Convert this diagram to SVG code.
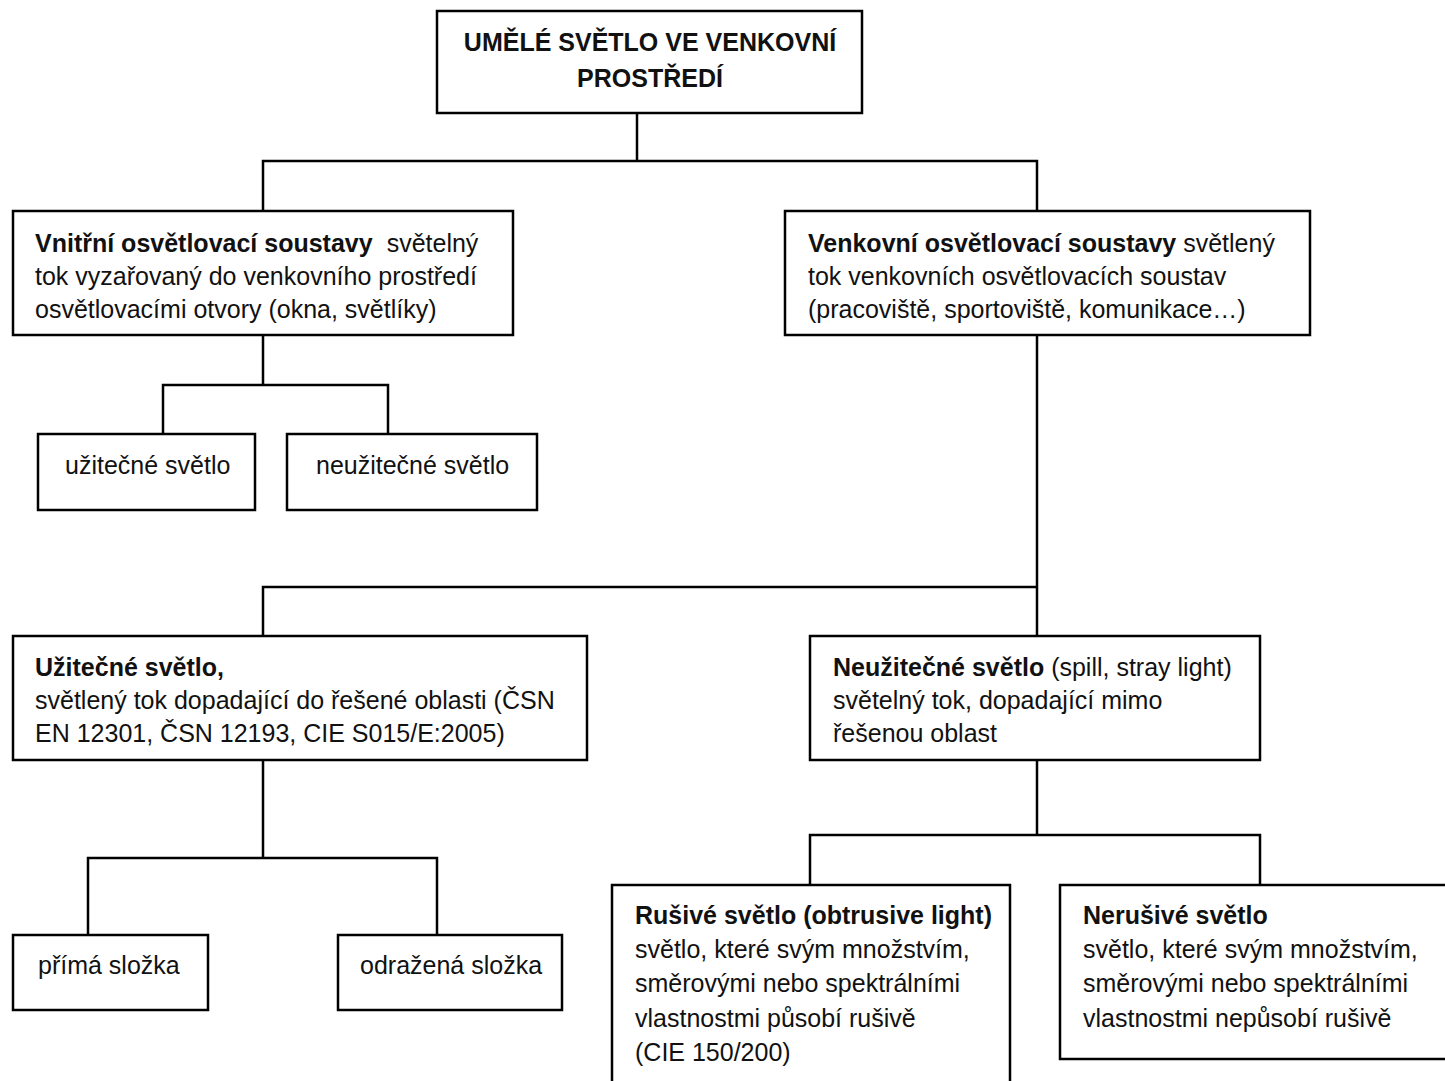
<svg xmlns="http://www.w3.org/2000/svg" width="1445" height="1081" viewBox="0 0 1445 1081">
<style>
.box{fill:#fff;stroke:#000;stroke-width:2.5}
.c{fill:none;stroke:#000;stroke-width:2.5}
text{font-family:"Liberation Sans",Arial,sans-serif;font-size:25px;fill:#111}
.b{font-weight:bold}
</style>
<rect width="1445" height="1081" fill="#fff"/>
<g id="connectors">
<path class="c" d="M637,113 V161 M263,211 V161 H1037 V211"/>
<path class="c" d="M263,335 V385 M163,434 V385 H388 V434"/>
<path class="c" d="M1037,335 V587 H263 V636 M1037,587 V636"/>
<path class="c" d="M263,760 V858 M88,935 V858 H437 V935"/>
<path class="c" d="M1037,760 V835 M810,885 V835 H1260 V885"/>
</g>
<g id="root">
<rect class="box" x="437" y="11" width="425" height="102"/>
<text class="b" x="650" y="51" text-anchor="middle">UMĚLÉ SVĚTLO VE VENKOVNÍ</text>
<text class="b" x="650" y="87" text-anchor="middle">PROSTŘEDÍ</text>
</g>
<g id="vnitrni">
<rect class="box" x="13" y="211" width="500" height="124"/>
<text x="35" y="252"><tspan class="b">Vnitřní osvětlovací soustavy</tspan><tspan dx="14">světelný</tspan></text>
<text x="35" y="285">tok vyzařovaný do venkovního prostředí</text>
<text x="35" y="318">osvětlovacími otvory (okna, světlíky)</text>
</g>
<g id="venkovni">
<rect class="box" x="785" y="211" width="525" height="124"/>
<text x="808" y="252"><tspan class="b">Venkovní osvětlovací soustavy</tspan> světlený</text>
<text x="808" y="285">tok venkovních osvětlovacích soustav</text>
<text x="808" y="318">(pracoviště, sportoviště, komunikace…)</text>
</g>
<g id="uzitecne-small">
<rect class="box" x="38" y="434" width="217" height="76"/>
<text x="65" y="474">užitečné světlo</text>
</g>
<g id="neuzitecne-small">
<rect class="box" x="287" y="434" width="250" height="76"/>
<text x="316" y="474">neužitečné světlo</text>
</g>
<g id="uzitecne">
<rect class="box" x="13" y="636" width="574" height="124"/>
<text class="b" x="35" y="676">Užitečné světlo,</text>
<text x="35" y="709">světlený tok dopadající do řešené oblasti (ČSN</text>
<text x="35" y="742">EN 12301, ČSN 12193, CIE S015/E:2005)</text>
</g>
<g id="neuzitecne">
<rect class="box" x="810" y="636" width="450" height="124"/>
<text x="833" y="676"><tspan class="b">Neužitečné světlo</tspan> (spill, stray light)</text>
<text x="833" y="709">světelný tok, dopadající mimo</text>
<text x="833" y="742">řešenou oblast</text>
</g>
<g id="prima">
<rect class="box" x="13" y="935" width="195" height="75"/>
<text x="38" y="974">přímá složka</text>
</g>
<g id="odrazena">
<rect class="box" x="338" y="935" width="224" height="75"/>
<text x="360" y="974">odražená složka</text>
</g>
<g id="rusive">
<rect class="box" x="612" y="885" width="398" height="210"/>
<text class="b" x="635" y="924">Rušivé světlo (obtrusive light)</text>
<text x="635" y="958">světlo, které svým množstvím,</text>
<text x="635" y="992">směrovými nebo spektrálními</text>
<text x="635" y="1027">vlastnostmi působí rušivě</text>
<text x="635" y="1061">(CIE 150/200)</text>
</g>
<g id="nerusive">
<rect class="box" x="1060" y="885" width="400" height="174"/>
<text class="b" x="1083" y="924">Nerušivé světlo</text>
<text x="1083" y="958">světlo, které svým množstvím,</text>
<text x="1083" y="992">směrovými nebo spektrálními</text>
<text x="1083" y="1027">vlastnostmi nepůsobí rušivě</text>
</g>
</svg>
